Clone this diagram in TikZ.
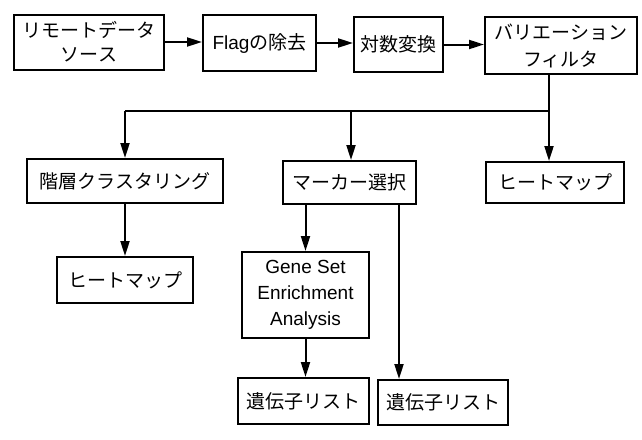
\documentclass[tikz,border=0pt]{standalone}
\usepackage{fontspec}
\setmainfont{Liberation Sans}
\newfontfamily\jp{Noto Sans CJK JP}
\usetikzlibrary{arrows.meta}
\tikzset{
  box/.style={draw=black, line width=2pt, fill=white, inner sep=0pt, align=center,
    font=\jp\fontsize{19}{24}\selectfont},
  arr/.style={line width=2pt, -{Triangle[length=15pt,width=9pt]}},
  ln/.style={line width=2pt}
}
\begin{document}
\begin{tikzpicture}[x=1pt,y=-1pt]
\useasboundingbox (0,0) rectangle (642,439);
% top row
\node[box, minimum width=150pt, minimum height=55pt] (b1) at (89,42) {リモートデータ\\ソース};
\node[box, minimum width=113pt, minimum height=56pt] (b2) at (259.5,43) {{\rmfamily Flag}の除去};
\node[box, minimum width=89pt, minimum height=55pt] (b3) at (398.5,44.5) {対数変換};
\node[box, minimum width=152pt, minimum height=57pt, font=\jp\fontsize{19}{27}\selectfont] (b4) at (561,45.5) {バリエーション\\フィルタ};
% second row
\node[box, minimum width=196pt, minimum height=44pt] (c1) at (125,181) {階層クラスタリング};
\node[box, minimum width=133pt, minimum height=43pt] (c2) at (349.5,182.5) {マーカー選択};
\node[box, minimum width=138pt, minimum height=41pt] (c3) at (555,182.5) {ヒートマップ};
% third row
\node[box, minimum width=136pt, minimum height=46pt] (d1) at (125,280) {ヒートマップ};
\node[box, minimum width=127pt, minimum height=86pt, font=\rmfamily\fontsize{19}{26}\selectfont] (d2) at (305.5,295) {Gene Set\\Enrichment\\Analysis};
% bottom row
\node[box, minimum width=131pt, minimum height=46pt] (e1) at (303.5,401) {遺伝子リスト};
\node[box, minimum width=130pt, minimum height=45pt] (e2) at (443,402.5) {遺伝子リスト};
% junctions
\coordinate (jr) at (549,111);
\coordinate (jm) at (351,111);
\coordinate (jl) at (125,111);
\coordinate (mx) at (399,0);
% connectors
\draw[arr] (b1.east) -- (b2.west |- b1.east);
\draw[arr] (b2.east) -- (b3.west |- b2.east);
\draw[arr] (b3.east) -- (b4.west |- b3.east);
\draw[arr] (b4.south -| jr) -- (c3.north -| jr);
\draw[ln] (jr) -- (jl);
\draw[arr] (jl) -- (c1.north);
\draw[arr] (jm) -- (c2.north -| jm);
\draw[arr] (c1.south) -- (d1.north);
\draw[arr] (c2.south -| d2.north) -- (d2.north);
\draw[arr] (d2.south) -- (e1.north -| d2.south);
\draw[arr] (c2.south -| mx) -- (e2.north -| mx);
\end{tikzpicture}
\end{document}
